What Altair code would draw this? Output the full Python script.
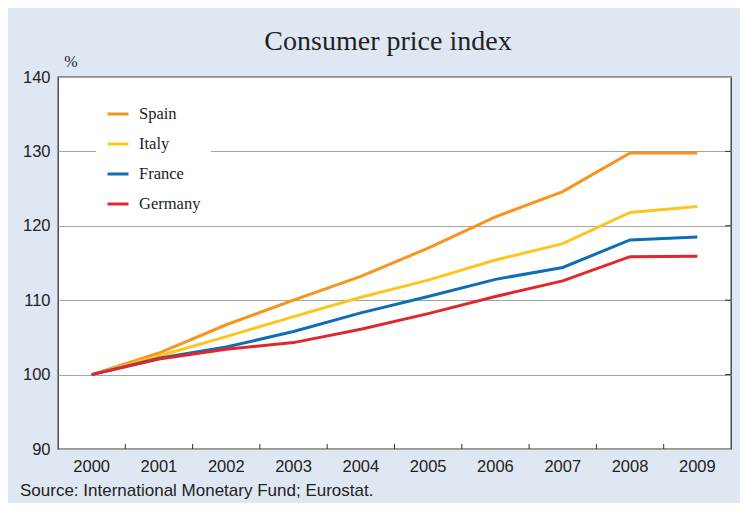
import altair as alt
import pandas as pd

years = ["2000", "2001", "2002", "2003", "2004", "2005", "2006", "2007", "2008", "2009"]
spain = [100, 102.9, 106.7, 110.0, 113.2, 117.0, 121.2, 124.6, 129.8, 129.8]
italy = [100, 102.5, 105.1, 107.8, 110.4, 112.7, 115.4, 117.6, 121.8, 122.6]
france = [100, 102.2, 103.7, 105.8, 108.3, 110.5, 112.8, 114.4, 118.1, 118.5]
germany = [100, 102.1, 103.4, 104.3, 106.1, 108.2, 110.5, 112.6, 115.85, 115.9]
countries = ["Spain", "Italy", "France", "Germany"]
colors = ["#f7941d", "#fdc520", "#0f6db5", "#e1262d"]
y_ticks = [90, 100, 110, 120, 130, 140]
grid_ticks = [100, 110, 120, 130]

rows = []
for name, vals in zip(countries, [spain, italy, france, germany]):
    for yr, v in zip(years, vals):
        rows.append({"year": yr, "country": name, "value": v})
df = pd.DataFrame(rows)

W, H = 673, 372
BG = "#dfe7f3"

xscale = alt.Scale(domain=years, paddingInner=0, paddingOuter=0)
yscale = alt.Scale(domain=[90, 140], nice=False, zero=False)

lines = alt.Chart(df).mark_line(strokeWidth=3).encode(
    x=alt.X("year:O", scale=xscale, sort=years,
            axis=alt.Axis(title=None, labelAngle=0, ticks=False, domain=False,
                          labelFont="Liberation Sans", labelFontSize=16.5,
                          labelColor="#222222", labelPadding=9)),
    y=alt.Y("value:Q", scale=yscale,
            axis=alt.Axis(title=None, values=y_ticks, ticks=False, domain=False,
                          grid=True, gridColor="#a6a6a6", gridWidth=1.2,
                          labelFont="Liberation Sans", labelFontSize=16.5,
                          labelColor="#222222", labelPadding=8)),
    color=alt.Color("country:N",
                    scale=alt.Scale(domain=countries, range=colors),
                    legend=alt.Legend(title=None, orient="none", legendX=38, legendY=15,
                                      fillColor="white", padding=10,
                                      symbolType="stroke", symbolSize=441,
                                      symbolStrokeWidth=3, rowPadding=9,
                                      labelFont="Liberation Serif", labelFontSize=16.5,
                                      labelColor="#222222", labelOffset=9)),
    order=alt.Order("year:O"),
)

tick_df = pd.DataFrame({"year": years[1:]})
xticks = alt.Chart(tick_df).mark_rule(color="#333333", strokeWidth=1).encode(
    x=alt.X("year:O", scale=xscale, sort=years, bandPosition=0),
    y=alt.value(H - 5),
    y2=alt.value(H),
)

rt_df = pd.DataFrame({"v": grid_ticks})
rticks = alt.Chart(rt_df).mark_rule(color="#333333", strokeWidth=1).encode(
    y=alt.Y("v:Q", scale=yscale),
    x=alt.value(W - 6),
    x2=alt.value(W),
)

title = alt.Chart(pd.DataFrame({"t": ["Consumer price index"]})).mark_text(
    font="Liberation Serif", fontSize=28, color="#222222", align="center", baseline="alphabetic"
).encode(text="t:N", x=alt.value(330), y=alt.value(-27))

pct = alt.Chart(pd.DataFrame({"t": ["%"]})).mark_text(
    font="Liberation Serif", fontSize=16, color="#222222", align="center", baseline="alphabetic"
).encode(text="t:N", x=alt.value(13), y=alt.value(-10))

source = alt.Chart(pd.DataFrame({"t": ["Source: International Monetary Fund; Eurostat."]})).mark_text(
    font="Liberation Sans", fontSize=17, color="#222222", align="left", baseline="alphabetic"
).encode(text="t:N", x=alt.value(-38), y=alt.value(419))

chart = alt.layer(lines, xticks, rticks, title, pct, source).properties(
    width=W, height=H,
    background=BG,
    padding={"left": 50, "top": 69, "right": 9, "bottom": 54},
    autosize=alt.AutoSizeParams(type="none"),
).configure_view(
    fill="white", stroke="#333333", strokeWidth=1.3
)

chart.save("out.html", embed_options={"renderer": "svg", "actions": False})
